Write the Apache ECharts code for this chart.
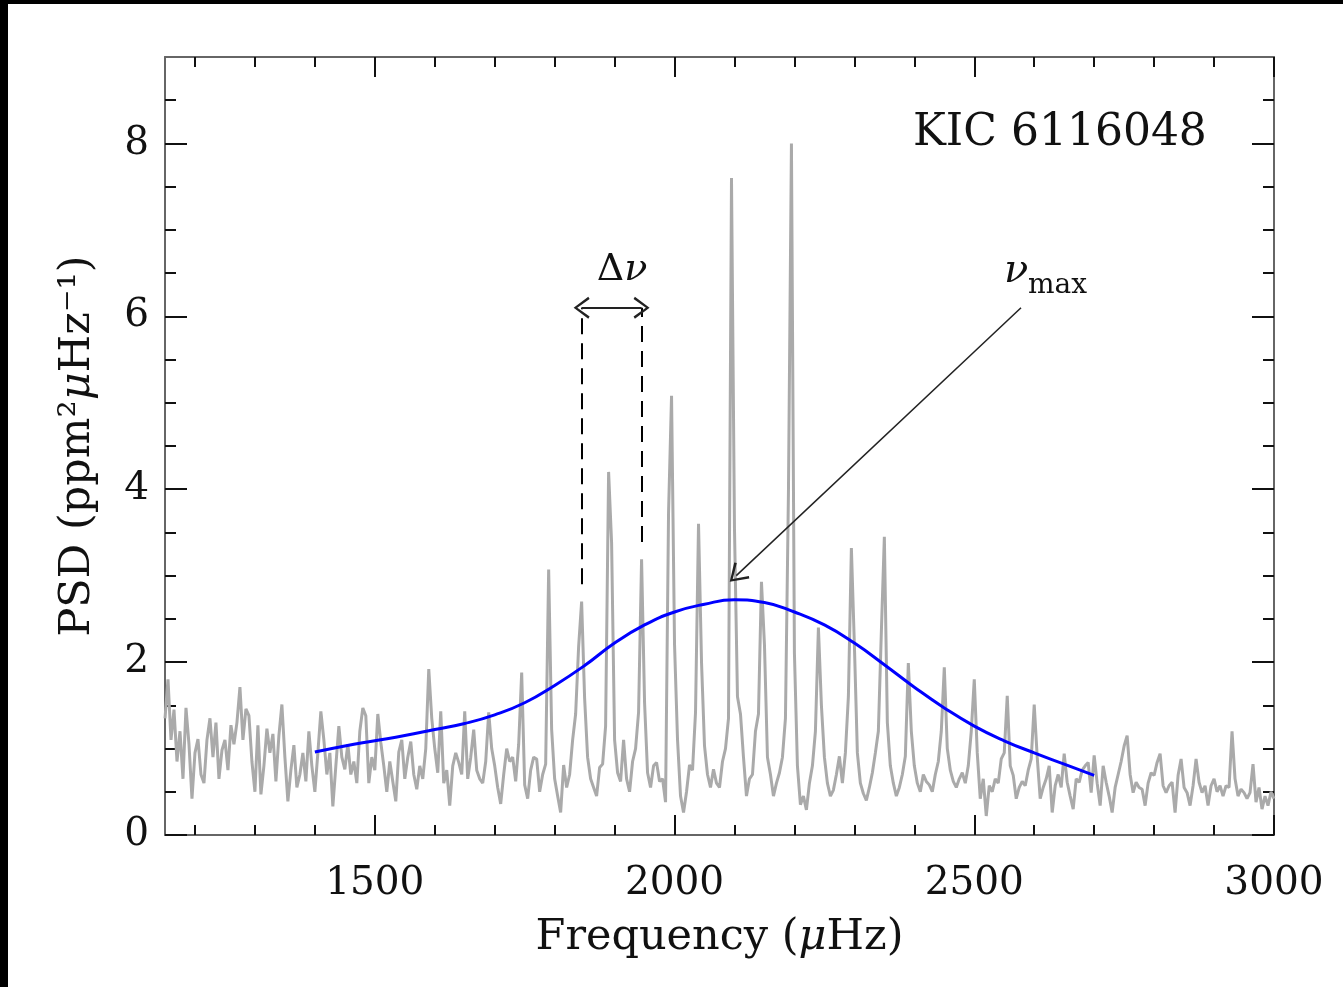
<!DOCTYPE html>
<html>
<head>
<meta charset="utf-8">
<script src="https://cdn.jsdelivr.net/npm/echarts@6/dist/echarts.min.js"></script>
<style>
  html, body { margin: 0; padding: 0; background: #000; width: 1343px; height: 987px; overflow: hidden; }
  #chart { position: absolute; left: 8px; top: 4px; width: 1335px; height: 983px; background: #fff; }
</style>
</head>
<body>
<div id="chart"></div>
<script>
// frequency grid of the power spectrum (µHz)
const freqStart = 1150
const freqStep = 5

// PSD, 5 µHz apart
const psdLow = [ // 1150 - 1600
  1.35, 1.80, 1.10, 1.45, 0.85, 1.20, 0.65, 1.47, 1.05, 0.42,
  0.95, 1.11, 0.70, 0.60, 1.10, 1.35, 0.90, 1.30, 0.65, 0.98,
  1.10, 0.75, 1.27, 1.05, 1.30, 1.71, 1.10, 1.46, 1.38, 0.85,
  0.50, 1.27, 0.47, 0.80, 1.23, 0.95, 1.17, 0.62, 1.15, 1.51,
  0.90, 0.39, 0.75, 1.04, 0.55, 0.70, 0.95, 0.62, 1.20, 0.80,
  0.50, 0.95, 1.43, 1.10, 0.70, 0.95, 0.33, 0.80, 1.26, 0.90,
  0.76, 1.05, 0.70, 0.85, 0.60, 1.20, 1.47, 1.38, 0.60, 0.90,
  0.75, 1.40, 1.07, 0.80, 0.50, 0.85, 0.62, 0.39, 0.96, 1.10,
  0.65, 0.90, 1.08, 0.70, 0.53, 0.80, 0.65, 1.00, 1.92, 1.35,
  1.00,
]
const psdRise = [ // 1605 - 2050
  0.72, 1.43, 0.60, 0.75, 0.34, 0.80, 0.95, 0.84, 0.70, 1.43,
  0.65, 0.90, 1.22, 0.75, 0.65, 0.60, 0.85, 1.42, 1.00, 0.80,
  0.55, 0.36, 0.70, 1.00, 0.85, 0.90, 0.62, 1.05, 1.88, 0.58,
  0.42, 0.75, 0.90, 0.88, 0.50, 0.70, 0.82, 3.07, 1.22, 0.65,
  0.45, 0.26, 0.81, 0.55, 0.70, 1.10, 1.40, 2.18, 2.70, 1.58,
  0.90, 0.65, 0.55, 0.45, 0.78, 0.82, 1.26, 4.20, 3.38, 1.10,
  0.72, 0.62, 1.10, 0.65, 0.50, 0.85, 1.00, 1.42, 3.19, 1.53,
  0.72, 0.55, 0.80, 0.84, 0.62, 0.65, 0.38, 3.73, 5.08, 2.20,
  1.10, 0.45, 0.26, 0.50, 0.81, 0.75, 1.42, 3.60, 2.00, 1.03,
]
const psdPeak = [ // 2055 - 2500
  0.70, 0.55, 0.76, 0.60, 0.55, 0.85, 1.00, 1.35, 7.60, 3.54,
  1.60, 1.40, 0.90, 0.45, 0.65, 0.70, 1.20, 1.40, 2.93, 2.20,
  0.90, 0.70, 0.45, 0.60, 0.72, 0.90, 1.35, 3.96, 8.00, 2.10,
  0.80, 0.35, 0.45, 0.29, 0.60, 0.80, 1.20, 2.40, 1.50, 0.90,
  0.60, 0.45, 0.52, 0.70, 0.91, 0.60, 0.95, 1.60, 3.32, 2.20,
  0.95, 0.60, 0.48, 0.40, 0.55, 0.72, 0.95, 1.20, 2.35, 3.45,
  1.30, 0.80, 0.60, 0.45, 0.55, 0.70, 0.91, 1.99, 1.20, 0.80,
  0.60, 0.50, 0.70, 0.62, 0.58, 0.50, 0.70, 0.85, 1.20, 1.94,
  1.00, 0.75, 0.62, 0.55, 0.65, 0.72, 0.60, 0.80, 1.20, 1.80,
]
const psdHigh = [ // 2505 - 3000
  0.95, 0.42, 0.65, 0.22, 0.57, 0.50, 0.65, 0.60, 0.88, 0.95,
  1.61, 0.80, 0.69, 0.42, 0.55, 0.62, 0.57, 0.75, 0.88, 1.51,
  0.90, 0.42, 0.55, 0.65, 0.80, 0.26, 0.57, 0.70, 0.55, 0.94,
  0.61, 0.45, 0.30, 0.65, 0.61, 0.75, 0.80, 0.84, 0.49, 0.92,
  0.60, 0.34, 0.80, 0.61, 0.45, 0.26, 0.55, 0.70, 0.85, 1.03,
  1.15, 0.70, 0.49, 0.61, 0.55, 0.53, 0.34, 0.60, 0.72, 0.69,
  0.84, 0.94, 0.57, 0.49, 0.57, 0.61, 0.26, 0.69, 0.88, 0.55,
  0.49, 0.34, 0.57, 0.88, 0.61, 0.49, 0.57, 0.34, 0.57, 0.65,
  0.50, 0.57, 0.45, 0.57, 0.55, 1.20, 0.65, 0.45, 0.53, 0.49,
  0.42, 0.49, 0.82, 0.38, 0.55, 0.30, 0.45, 0.34, 0.50, 0.42,
]

// smooth envelope (blue)
const modelFreq = [1400, 1450, 1500, 1550, 1600, 1650, 1700, 1750, 1800, 1850, 1900, 1950, 2000,
  2050, 2100, 2150, 2200, 2250, 2300, 2350, 2400, 2450, 2500, 2550, 2600, 2650, 2700]
const modelPsd = [0.96, 1.03, 1.09, 1.15, 1.22, 1.29, 1.39, 1.53, 1.73, 1.96, 2.22, 2.43, 2.58,
  2.67, 2.72, 2.69, 2.58, 2.43, 2.22, 1.97, 1.71, 1.47, 1.26, 1.09, 0.95, 0.82, 0.69]

// annotations
const dnuFreqs = [1845, 1945]
const dnuLineBottoms = [2.9, 3.39]
const dnuArrowY = 6.1
const numaxArrowFrom = [2578, 6.1]
const numaxArrowTo = [2103, 3.0]

// ticks
const xMajorTicks = [1500, 2000, 2500, 3000]
const xMinorTicks = [1200, 1300, 1400, 1600, 1700, 1800, 1900, 2100, 2200, 2300, 2400, 2600, 2700, 2800, 2900]
const yMajorTicks = [0, 2, 4, 6, 8]
const yMinorTicks = [0.5, 1, 1.5, 2.5, 3, 3.5, 4.5, 5, 5.5, 6.5, 7, 7.5, 8.5]

const FONT = 'DejaVu Serif'
const TXT = '#111'
const psd = [...psdLow, ...psdRise, ...psdPeak, ...psdHigh]
const spectrum = psd.map((v, i) => [freqStart + i * freqStep, v])
const model = modelFreq.map((f, i) => [f, modelPsd[i]])

const chevron = 'path://M50,0 L100,88 L90,96 L50,22 L10,96 L0,88 Z'

const chart = echarts.init(document.getElementById('chart'), null, { renderer: 'canvas' })

const frameLine = { show: true, onZero: false, lineStyle: { color: '#666', width: 2 } }
const noLine = { show: false, onZero: false }
const xBase = { type: 'value', min: 1150, max: 3000, splitLine: { show: false } }
const yBase = { type: 'value', min: 0, max: 9, splitLine: { show: false } }
const tick = (values, len) => ({
  show: true, inside: true, length: len, customValues: values,
  lineStyle: { color: '#111', width: 2 },
})

const option = {
  animation: false,
  backgroundColor: '#fff',
  grid: { left: 157, right: 69, top: 53, bottom: 152 },
  xAxis: [
    {
      ...xBase, position: 'bottom', axisLine: frameLine,
      axisTick: tick(xMajorTicks, 20),
      axisLabel: { customValues: xMajorTicks, formatter: v => String(v), fontFamily: FONT, fontSize: 39, color: TXT, margin: 29 },
      name: 'Frequency ({it|μ}Hz)', nameLocation: 'middle', nameGap: 81,
      nameTextStyle: {
        fontFamily: FONT, fontSize: 43, color: TXT,
        rich: { it: { fontFamily: FONT, fontSize: 43, fontStyle: 'italic', color: TXT } },
      },
    },
    { ...xBase, position: 'bottom', axisLine: noLine, axisTick: tick(xMinorTicks, 10), axisLabel: { show: false } },
    { ...xBase, position: 'top', axisLine: frameLine, axisTick: tick(xMajorTicks, 20), axisLabel: { show: false } },
    { ...xBase, position: 'top', axisLine: noLine, axisTick: tick(xMinorTicks, 10), axisLabel: { show: false } },
  ],
  yAxis: [
    {
      ...yBase, position: 'left', axisLine: frameLine,
      axisTick: tick(yMajorTicks, 22),
      axisLabel: { customValues: yMajorTicks, formatter: v => String(v), fontFamily: FONT, fontSize: 39, color: TXT, margin: 16 },
      name: 'PSD (ppm²{it|μ}Hz⁻¹)', nameLocation: 'middle', nameRotate: 90, nameGap: 66,
      nameTextStyle: {
        fontFamily: FONT, fontSize: 43, color: TXT,
        rich: { it: { fontFamily: FONT, fontSize: 43, fontStyle: 'italic', color: TXT } },
      },
    },
    { ...yBase, position: 'left', axisLine: noLine, axisTick: tick(yMinorTicks, 11), axisLabel: { show: false } },
    { ...yBase, position: 'right', axisLine: frameLine, axisTick: tick(yMajorTicks, 22), axisLabel: { show: false } },
    { ...yBase, position: 'right', axisLine: noLine, axisTick: tick(yMinorTicks, 11), axisLabel: { show: false } },
  ],
  series: [
    {
      type: 'line', data: spectrum, showSymbol: false, silent: true,
      lineStyle: { color: '#aaaaaa', width: 3 },
    },
    {
      type: 'line', data: model, smooth: true, showSymbol: false, silent: true,
      lineStyle: { color: '#0000ff', width: 3 },
      markLine: {
        silent: true, animation: false,
        symbol: ['none', 'none'],
        label: { show: false },
        emphasis: { disabled: true },
        data: [
          [
            { coord: [dnuFreqs[0], dnuLineBottoms[0]], lineStyle: { color: '#000', width: 2, type: [16, 9] } },
            { coord: [dnuFreqs[0], dnuArrowY] },
          ],
          [
            { coord: [dnuFreqs[1], dnuLineBottoms[1]], lineStyle: { color: '#000', width: 2, type: [16, 9] } },
            { coord: [dnuFreqs[1], dnuArrowY] },
          ],
          [
            { coord: [dnuFreqs[0], dnuArrowY], symbol: chevron, symbolSize: [22, 16], lineStyle: { color: '#222', width: 2, type: 'solid' } },
            { coord: [dnuFreqs[1], dnuArrowY], symbol: chevron, symbolSize: [22, 16] },
          ],
          [
            { coord: numaxArrowFrom, symbol: 'none', lineStyle: { color: '#222', width: 1.5, type: 'solid' } },
            { coord: numaxArrowTo, symbol: chevron, symbolSize: [22, 18] },
          ],
        ],
      },
    },
  ],
  graphic: [
    {
      type: 'text', left: 905, top: 108,
      style: { text: 'KIC 6116048', fontFamily: FONT, fontSize: 44, fill: TXT },
    },
    {
      type: 'text', x: 614, y: 266,
      style: {
        text: '{d|Δ}{n|ν}', align: 'center', verticalAlign: 'middle',
        rich: {
          d: { fontFamily: FONT, fontSize: 38, fill: TXT },
          n: { fontFamily: FONT, fontSize: 38, fontStyle: 'italic', fill: TXT },
        },
      },
    },
    {
      type: 'text', x: 996, y: 268,
      style: { text: 'ν', fontFamily: FONT, fontSize: 40, fontStyle: 'italic', fill: TXT, verticalAlign: 'middle' },
    },
    {
      type: 'text', x: 1020, y: 282,
      style: { text: 'max', fontFamily: FONT, fontSize: 28, fill: TXT, verticalAlign: 'middle' },
    },
  ],
}

chart.setOption(option)
window.addEventListener('resize', () => chart.resize())
</script>
</body>
</html>
